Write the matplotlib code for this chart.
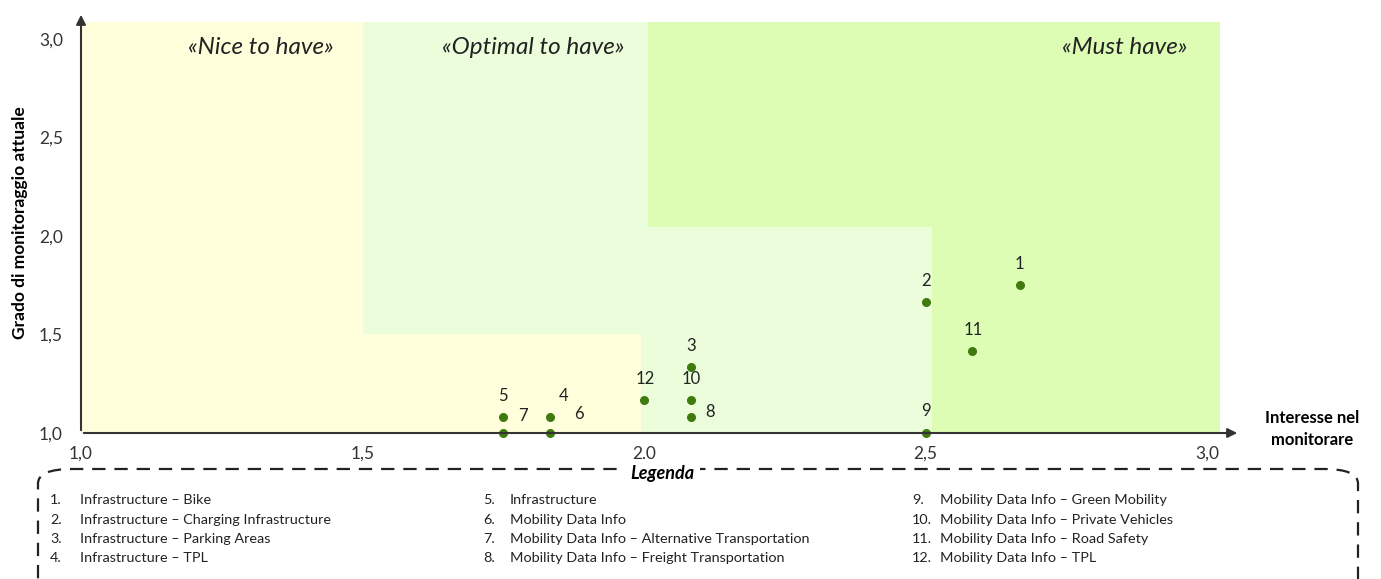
import matplotlib.pyplot as plt
from matplotlib.patches import Rectangle, FancyBboxPatch

plt.rcParams['font.family'] = ['Lato', 'DejaVu Sans']

# punti: numero, interesse (x), grado di monitoraggio (y)
ids = ['1', '2', '3', '4', '5', '6', '7', '8', '9', '10', '11', '12']
interesse = [2.667, 2.5, 2.083, 1.833, 1.75, 1.833, 1.75, 2.083, 2.5, 2.083, 2.583, 2.0]
grado = [1.75, 1.667, 1.333, 1.083, 1.083, 1.0, 1.0, 1.083, 1.0, 1.167, 1.417, 1.167]

legenda = [
    'Infrastructure – Bike',
    'Infrastructure – Charging Infrastructure',
    'Infrastructure – Parking Areas',
    'Infrastructure – TPL',
    'Infrastructure',
    'Mobility Data Info',
    'Mobility Data Info – Alternative Transportation',
    'Mobility Data Info – Freight Transportation',
    'Mobility Data Info – Green Mobility',
    'Mobility Data Info – Private Vehicles',
    'Mobility Data Info – Road Safety',
    'Mobility Data Info – TPL',
]

xticks = [1.0, 1.5, 2.0, 2.5, 3.0]
yticks = [1.0, 1.5, 2.0, 2.5, 3.0]

# offset etichette (pixel)
offs = {'1': (0, 21), '2': (0, 21), '3': (0, 21), '4': (14, 21), '5': (0, 21),
        '6': (29, 19), '7': (20, 17), '8': (19, 5), '9': (0, 22), '10': (0, 21),
        '11': (1, 21), '12': (1, 21)}

YEL = '#FFFFDC'
LGR = '#EBFDDA'
GRN = '#DDFDB4'

fig = plt.figure(figsize=(13.81, 5.79), dpi=100)
ax = fig.add_axes([81 / 1381, 146 / 579, 1159 / 1381, 421 / 579])
ax.set_xlim(1.0, 3.0586)
ax.set_ylim(1.0, 3.137)

top = 3.087
# zone
ax.add_patch(Rectangle((1.0, 1.0), 0.5, top - 1.0, color=YEL, lw=0, zorder=0))
ax.add_patch(Rectangle((1.5, 1.0), 0.495, 0.5, color=YEL, lw=0, zorder=0))
ax.add_patch(Rectangle((1.5, 1.5), 0.507, top - 1.5, color=LGR, lw=0, zorder=0))
ax.add_patch(Rectangle((1.995, 1.0), 0.516, 1.046, color=LGR, lw=0, zorder=0))
ax.add_patch(Rectangle((2.007, 2.046), 1.016, top - 2.046, color=GRN, lw=0, zorder=0))
ax.add_patch(Rectangle((2.511, 1.0), 0.512, 1.046, color=GRN, lw=0, zorder=0))

ax.text(1.32, 2.955, '«Nice to have»', style='italic', fontsize=17.5, ha='center', va='center', color='#222222')
ax.text(1.803, 2.955, '«Optimal to have»', style='italic', fontsize=17.5, ha='center', va='center', color='#222222')
ax.text(2.965, 2.955, '«Must have»', style='italic', fontsize=17.5, ha='right', va='center', color='#222222')

ax.scatter(interesse, grado, s=30, color='#3E7A0E', zorder=3, clip_on=False)
for i, x, y in zip(ids, interesse, grado):
    dx, dy = offs[i]
    ax.annotate(i, (x, y), xytext=(dx, dy), textcoords='offset pixels',
                ha='center', va='center', fontsize=12, color='#222222')

for s in ax.spines.values():
    s.set_visible(False)
ax.annotate('', xy=(1.0, 0), xytext=(0, 0), xycoords='axes fraction',
            arrowprops=dict(arrowstyle='-|>', color='#333333', lw=1.5, mutation_scale=14))
ax.annotate('', xy=(0, 1.0), xytext=(0, 0), xycoords='axes fraction',
            arrowprops=dict(arrowstyle='-|>', color='#333333', lw=1.5, mutation_scale=14))

ax.set_xticks(xticks)
ax.set_xticklabels([f'{v:.1f}'.replace('.', ',') for v in xticks])
ax.set_yticks(yticks)
ax.set_yticklabels([f'{v:.1f}'.replace('.', ',') for v in yticks])
ax.tick_params(length=0, labelsize=12.5, colors='#333333')
ax.tick_params(axis='x', pad=9)
ax.tick_params(axis='y', pad=13)

ax.set_ylabel('Grado di monitoraggio attuale', fontweight='bold', fontsize=12.5, labelpad=8)
fig.text(1312 / 1381, 1 - 429 / 579, 'Interesse nel\nmonitorare', fontweight='bold', fontsize=12,
         ha='center', va='center', linespacing=1.5)

# riquadro legenda
box = FancyBboxPatch((38 / 1381, -0.04), 1320 / 1381, 0.23,
                     boxstyle='round,pad=0,rounding_size=0.025', transform=fig.transFigure,
                     fill=False, ec='#222222', lw=1.6, ls=(0, (6, 4)), clip_on=False)
fig.add_artist(box)
fig.text(662 / 1381, 1 - 473 / 579, 'Legenda', fontweight='bold', style='italic', fontsize=13,
         ha='center', va='center', bbox=dict(fc='white', ec='none', pad=4))

cols = [(50, 80), (483, 510), (912, 940)]
rows = [500, 520, 539, 558]
for k, txt in enumerate(legenda):
    cx, tx = cols[k // 4]
    ry = 1 - rows[k % 4] / 579
    fig.text(cx / 1381, ry, f'{k + 1}.', fontsize=10.4, ha='left', va='center', color='#222222')
    fig.text(tx / 1381, ry, txt, fontsize=10.4, ha='left', va='center', color='#222222')

fig.savefig('out.png', dpi=100)
